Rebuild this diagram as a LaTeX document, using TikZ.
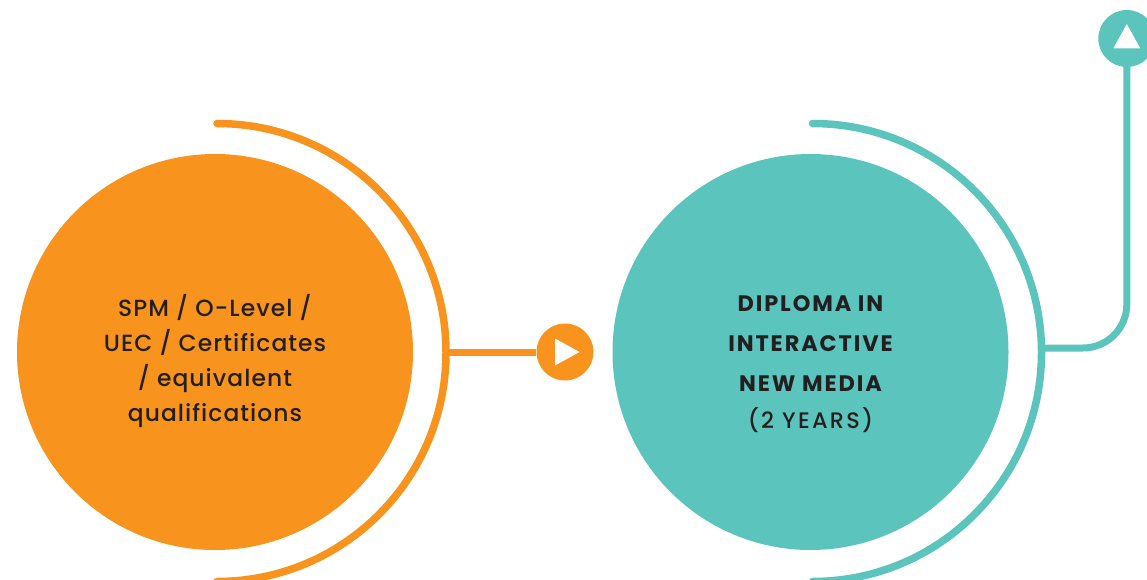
\documentclass[tikz,border=0pt]{standalone}
\usepackage{fontspec}
\setmainfont{Poppins}
\newfontfamily\medtext[LetterSpace=4.5]{Poppins Medium}
\newfontfamily\medcaps[LetterSpace=10]{Poppins Medium}
\newfontfamily\boldcaps[LetterSpace=8.5]{Poppins}
\definecolor{orangeC}{HTML}{F8931D}
\definecolor{tealC}{HTML}{5BC4BD}
\definecolor{inkC}{HTML}{231F20}
\tikzset{
  bigdisc/.style={circle,minimum size=396pt,inner sep=0pt},
  disctext/.style={text=inkC,align=center,inner sep=0pt},
  tipdisc/.style={circle,minimum size=57pt,inner sep=0pt},
  ringline/.style={line width=7.5pt,line cap=round},
  linkline/.style={line width=7pt},
  tip/.style={fill=white,draw=none}
}
\begin{document}
\begin{tikzpicture}[x=1pt,y=-1pt]
\useasboundingbox (0,0) rectangle (1147,580);
\begin{scope}
\clip (0,0) rectangle (1147,580);
% orange group
\node[bigdisc,fill=orangeC] (spm) at (215,352) {};
\node[disctext,font={\fontsize{23.4}{34.8}\selectfont\medtext}] (spmText) at (215,361)
  {SPM / O-Level /\\UEC / Certificates\\/ equivalent\\qualifications};
\coordinate (spmTop) at (217,123.5);
\coordinate (spmRight) at (446,352);
\draw[ringline,orangeC] (spmTop) arc[start angle=90,end angle=-90,radius=229pt];
\node[tipdisc,fill=orangeC] (next) at (565,352) {};
\draw[linkline,orangeC] (spmRight) -- (next);
\fill[tip] ([shift={(-10,-13.5)}]next.center) -- ([shift={(14.5,0)}]next.center) -- ([shift={(-10,13.5)}]next.center) -- cycle;
% teal group
\node[bigdisc,fill=tealC] (dip) at (810.5,352) {};
\node[disctext,font={\fontsize{22.4}{40}\selectfont}] (dipText) at (810.5,364)
  {{\boldcaps\bfseries DIPLOMA IN}\\{\boldcaps\bfseries INTERACTIVE}\\{\boldcaps\bfseries NEW MEDIA}\\[-3pt]{\medcaps (2 YEARS)}};
\coordinate (dipTop) at (812.5,123.5);
\coordinate (dipRight) at (1041.5,348);
\draw[ringline,tealC] (dipTop) arc[start angle=90,end angle=-90,radius=229pt];
\node[tipdisc,fill=tealC] (up) at (1126.8,38.5) {};
\draw[linkline,tealC] (dipRight) -- (1083,348) arc[start angle=-90,end angle=0,radius=43.8pt] -- (up);
\fill[tip] ([shift={(0,-14.5)}]up.center) -- ([shift={(13.5,10)}]up.center) -- ([shift={(-13.5,10)}]up.center) -- cycle;
\end{scope}
\end{tikzpicture}
\end{document}
